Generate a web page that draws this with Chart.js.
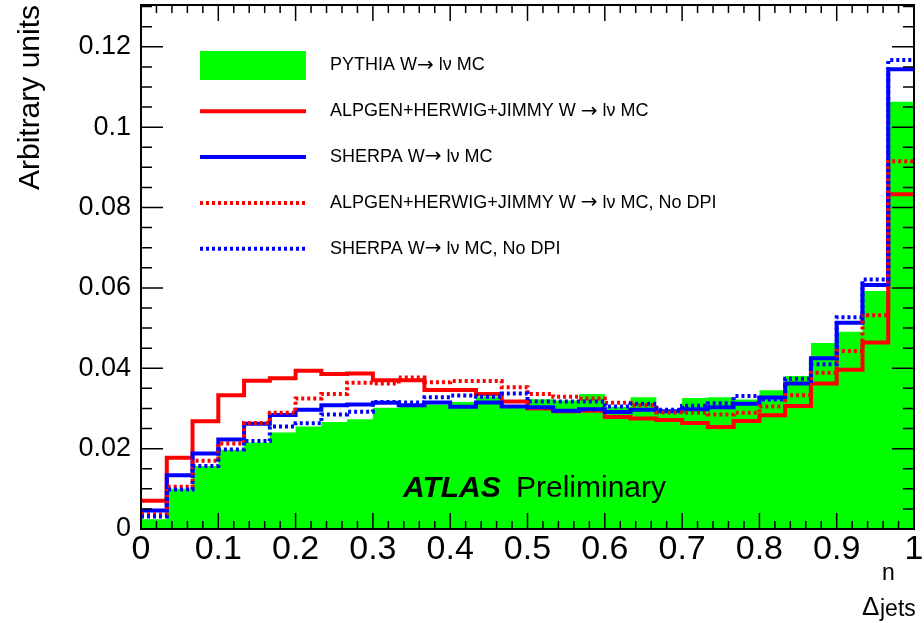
<!DOCTYPE html>
<html>
<head>
<meta charset="utf-8">
<title>Delta n jets</title>
<script src="https://cdn.jsdelivr.net/npm/chart.js@4.4.1/dist/chart.umd.min.js"></script>
<style>
  html, body { margin: 0; padding: 0; background: #ffffff; }
  #wrap { width: 924px; height: 623px; position: relative; }
</style>
</head>
<body>
<div id="wrap"><canvas id="c" width="924" height="623"></canvas></div>
<script>
// ---- data -------------------------------------------------------------
const NBINS = 30;
const xTickLabels = ['0', '0.1', '0.2', '0.3', '0.4', '0.5', '0.6', '0.7', '0.8', '0.9', '1'];
const yTickLabels = ['0', '0.02', '0.04', '0.06', '0.08', '0.1', '0.12'];

const pythia = [0.0024, 0.0100, 0.0157, 0.0197, 0.0215, 0.0240, 0.0255, 0.0266, 0.0273, 0.0302,
                0.0304, 0.0310, 0.0316, 0.0330, 0.0302, 0.0323, 0.0320, 0.0336, 0.0304, 0.0328,
                0.0291, 0.0326, 0.0328, 0.0322, 0.0345, 0.0381, 0.0463, 0.0491, 0.0592, 0.1063];
const alpgen = [0.0070, 0.0177, 0.0268, 0.0333, 0.0369, 0.0375, 0.0394, 0.0386, 0.0387, 0.0370,
                0.0370, 0.0346, 0.0346, 0.0336, 0.0317, 0.0300, 0.0293, 0.0294, 0.0279, 0.0275,
                0.0271, 0.0264, 0.0254, 0.0269, 0.0283, 0.0306, 0.0362, 0.0396, 0.0464, 0.0833];
const sherpa = [0.0046, 0.0134, 0.0188, 0.0223, 0.0262, 0.0284, 0.0297, 0.0308, 0.0310, 0.0314,
                0.0308, 0.0315, 0.0304, 0.0315, 0.0305, 0.0303, 0.0294, 0.0298, 0.0291, 0.0297,
                0.0293, 0.0298, 0.0303, 0.0312, 0.0327, 0.0362, 0.0425, 0.0513, 0.0607, 0.1144];
const alpgenNoDPI = [0.0037, 0.0105, 0.0170, 0.0213, 0.0264, 0.0289, 0.0325, 0.0336, 0.0364, 0.0362,
                     0.0377, 0.0365, 0.0368, 0.0368, 0.0353, 0.0336, 0.0329, 0.0325, 0.0314, 0.0308,
                     0.0290, 0.0289, 0.0285, 0.0289, 0.0305, 0.0333, 0.0389, 0.0443, 0.0532, 0.0915];
const sherpaNoDPI = [0.0031, 0.0098, 0.0157, 0.0198, 0.0219, 0.0255, 0.0263, 0.0285, 0.0292, 0.0316,
                     0.0315, 0.0328, 0.0332, 0.0329, 0.0337, 0.0317, 0.0317, 0.0317, 0.0305, 0.0312,
                     0.0297, 0.0307, 0.0313, 0.0331, 0.0322, 0.0374, 0.0410, 0.0527, 0.0621, 0.1167];

// ---- helpers ----------------------------------------------------------
const binEdges = Array.from({ length: NBINS + 1 }, (_, i) => i / NBINS);

// Step outline of a histogram: one point per lower bin edge, closed at the upper edge.
function histPoints(values) {
  const pts = values.map((v, i) => ({ x: binEdges[i], y: v }));
  pts.push({ x: binEdges[NBINS], y: values[NBINS - 1] });
  return pts;
}

const SANS = '"Liberation Sans", Arial, Helvetica, sans-serif';
const NARROW = '"Liberation Sans Narrow", "Arial Narrow", "Liberation Sans", sans-serif';
const ARROW_FONT = '20px "DejaVu Sans", sans-serif';

// Frame with ROOT-style inward ticks on all four sides.
const frameTicks = {
  id: 'frameTicks',
  afterDatasetsDraw(chart, args, o) {
    const { ctx, chartArea: a, scales: { x, y } } = chart;
    ctx.save();
    ctx.strokeStyle = '#000';
    ctx.lineWidth = o.tickWidth;
    ctx.beginPath();
    for (let k = 0; k * o.yMinor <= y.max + 1e-9; k++) {
      const p = y.getPixelForValue(k * o.yMinor);
      const len = k % o.yPerMajor === 0 ? o.yMajorLen : o.yMinorLen;
      ctx.moveTo(a.left, p); ctx.lineTo(a.left + len, p);
      ctx.moveTo(a.right, p); ctx.lineTo(a.right - len, p);
    }
    for (let k = 0; k * o.xMinor <= x.max + 1e-9; k++) {
      const p = x.getPixelForValue(k * o.xMinor);
      const len = k % o.xPerMajor === 0 ? o.xMajorLen : o.xMinorLen;
      ctx.moveTo(p, a.bottom); ctx.lineTo(p, a.bottom - len);
      ctx.moveTo(p, a.top); ctx.lineTo(p, a.top + len);
    }
    ctx.stroke();
    ctx.lineWidth = o.frameWidth;
    ctx.strokeRect(a.left, a.top, a.right - a.left, a.bottom - a.top);
    ctx.restore();
  }
};

// Writes a legend label, giving the arrow a longer glyph than the text font has.
function drawLabel(ctx, text, x, y) {
  const parts = text.split('\u2192');
  let cx = x;
  parts.forEach((part, i) => {
    if (i > 0) {
      ctx.font = ARROW_FONT;
      ctx.fillText('\u2192', cx, y);
      cx += ctx.measureText('\u2192').width;
    }
    ctx.font = '18px ' + SANS;
    ctx.fillText(part, cx, y);
    cx += ctx.measureText(part).width;
  });
}

// Legend, experiment label and the x-axis title.
const annotations = {
  id: 'annotations',
  afterDraw(chart, args, o) {
    const ctx = chart.ctx;
    ctx.save();
    chart.data.datasets.forEach((d, i) => {
      const yy = o.legendTop + i * o.legendGap;
      if (d.fill) {
        ctx.fillStyle = d.backgroundColor;
        ctx.fillRect(o.symX0, yy - o.boxH / 2, o.symX1 - o.symX0, o.boxH);
      } else {
        ctx.strokeStyle = d.borderColor;
        ctx.lineWidth = d.borderWidth;
        ctx.setLineDash(d.borderDash || []);
        ctx.beginPath();
        ctx.moveTo(o.symX0, yy);
        ctx.lineTo(o.symX1, yy);
        ctx.stroke();
        ctx.setLineDash([]);
      }
      ctx.fillStyle = '#000';
      ctx.textBaseline = 'middle';
      ctx.textAlign = 'left';
      drawLabel(ctx, d.label, o.textX, yy);
    });

    ctx.textBaseline = 'alphabetic';
    ctx.fillStyle = '#000';
    ctx.font = 'italic bold 30px ' + SANS;
    ctx.fillText('ATLAS', 403, 497);
    ctx.font = '30px ' + SANS;
    ctx.fillText('Preliminary', 516, 497);

    // Δ with superscript n and subscript jets
    ctx.font = '26px ' + SANS;
    ctx.fillText('\u0394', 862, 615);
    ctx.font = '23px ' + NARROW;
    ctx.fillText('n', 882, 580);
    ctx.fillText('jets', 880, 616);
    ctx.restore();
  }
};

function stepLine(label, values, color, dash, order) {
  return {
    label, data: histPoints(values), stepped: 'before', fill: false,
    borderColor: color, borderWidth: 4, borderDash: dash, borderJoinStyle: 'miter',
    borderCapStyle: 'butt', pointRadius: 0, order
  };
}

new Chart(document.getElementById('c'), {
  type: 'line',
  data: {
    datasets: [
      {
        label: 'PYTHIA W\u2192 l\u03bd MC', data: histPoints(pythia), stepped: 'before',
        fill: 'origin', backgroundColor: '#00ff00', borderColor: 'rgba(0,0,0,0)',
        borderWidth: 0, pointRadius: 0, order: 5
      },
      stepLine('ALPGEN+HERWIG+JIMMY W \u2192 l\u03bd MC', alpgen, '#ff0000', [], 4),
      stepLine('SHERPA W\u2192 l\u03bd MC', sherpa, '#0000ff', [], 3),
      stepLine('ALPGEN+HERWIG+JIMMY W \u2192 l\u03bd MC, No DPI', alpgenNoDPI, '#ff0000', [3, 3], 2),
      stepLine('SHERPA W\u2192 l\u03bd MC, No DPI', sherpaNoDPI, '#0000ff', [3, 3], 1)
    ]
  },
  options: {
    responsive: false,
    animation: false,
    devicePixelRatio: 1,
    layout: { padding: { top: 5, right: 10, left: 0, bottom: 0 } },
    scales: {
      x: {
        type: 'linear', min: 0, max: 1,
        grid: { display: false, drawTicks: false },
        border: { display: false },
        ticks: {
          stepSize: 0.1, autoSkip: false, maxRotation: 0, padding: 4, color: '#000',
          font: { size: 34, family: NARROW, lineHeight: 1 },
          callback: v => xTickLabels[Math.round(v * 10)]
        },
        afterFit(s) { s.height = 94; s.paddingLeft = 0; s.paddingRight = 0; }
      },
      y: {
        type: 'linear', min: 0, max: 0.1304,
        grid: { display: false, drawTicks: false },
        border: { display: false },
        ticks: {
          stepSize: 0.02, includeBounds: false, padding: 10, color: '#000',
          font: { size: 27, family: SANS },
          callback: v => yTickLabels[Math.round(v / 0.02)]
        },
        title: {
          display: true, text: 'Arbitrary units', align: 'end', color: '#000',
          font: { size: 30, family: SANS }, padding: { top: 13, bottom: 0 }
        },
        afterFit(s) { s.width = 141; s.paddingTop = 0; s.paddingBottom = 0; }
      }
    },
    plugins: {
      legend: { display: false },
      tooltip: { enabled: false },
      frameTicks: {
        tickWidth: 1.5, frameWidth: 2,
        yMinor: 0.005, yPerMajor: 4, yMajorLen: 22, yMinorLen: 11,
        xMinor: 0.02, xPerMajor: 5, xMajorLen: 16, xMinorLen: 8
      },
      annotations: {
        legendTop: 65.5, legendGap: 45.8, symX0: 200, symX1: 306, boxH: 29, textX: 330
      }
    }
  },
  plugins: [frameTicks, annotations]
});
</script>
</body>
</html>
